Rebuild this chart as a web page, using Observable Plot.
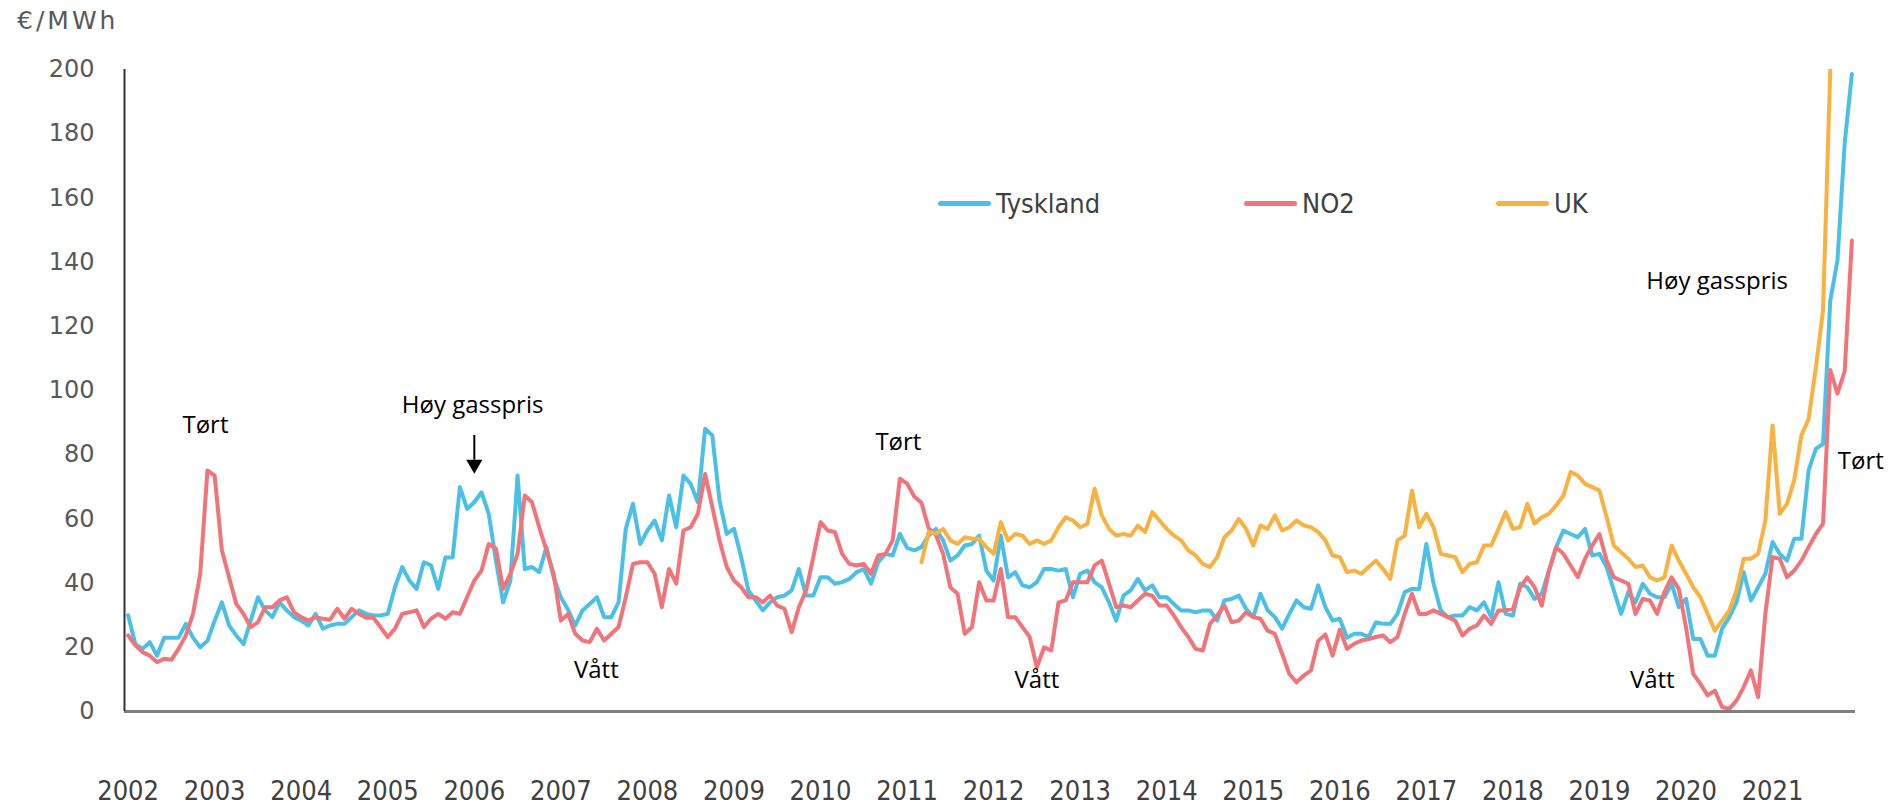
<!DOCTYPE html>
<html>
<head>
<meta charset="utf-8">
<script src="https://cdn.jsdelivr.net/npm/d3@7"></script>
<script src="https://cdn.jsdelivr.net/npm/@observablehq/plot@0.6"></script>
<style>
  html, body { margin: 0; padding: 0; background: #fff; }
  #wrap { position: relative; width: 1891px; height: 806px; overflow: hidden; }
  #unit { position: absolute; left: 17px; top: 6px; font: 25px "DejaVu Sans"; color: #595959; letter-spacing: 3px; }
  .leg { position: absolute; top: 186px; height: 34px; display: flex; align-items: center; font: 27px "DejaVu Sans Condensed"; color: #404040; }
  .leg span.sw { display: inline-block; width: 53px; height: 5px; border-radius: 3px; margin-right: 5px; }
  g[aria-label="y-axis tick label"] text { font-family: "DejaVu Sans"; font-size: 24px; fill: #595959; }
  g[aria-label="x-axis tick label"] text { font-family: "DejaVu Sans Condensed"; font-size: 27px; fill: #404040; }
  g[aria-label="text"] text { font-family: "Open Sans"; font-size: 24px; fill: #000; }
</style>
</head>
<body>
<div id="wrap">
  <div id="unit">€/MWh</div>
</div>
<script>
// Monthly prices, €/MWh, Jan 2002 – Dec 2021
const startYear = 2002;
const tyskland = [
  30,21,19.5,21.6,17.4,23,23,23,27.3,23,20,22,
  28.3,34,26.8,23.7,21,28.3,35.6,31.5,29.4,34,31.5,29.4,
  28.3,26.8,30.4,25.8,26.8,27.3,27.3,29.4,31.5,30.4,29.9,29.9,
  30.4,38.7,45,40.8,38.2,46.5,45.5,38.2,48,48,69.9,63.1,
  65.2,68.3,61.6,47,34,40.8,73.5,44.4,45,43.4,51.2,41.8,
  35.6,31.7,26.8,31.5,33.5,35.6,29.4,29.4,34,56.9,64.7,52.2,
  56.4,59.5,53.3,67.3,57.4,73.5,70.9,65.2,88.1,86,65.7,55.3,
  56.9,48.1,37.7,34.6,31.5,34,35.6,36.1,37.7,44.4,36.1,36.1,
  41.8,41.8,39.8,40.3,41.3,43.4,44.4,39.8,46.5,49.1,48.6,55.3,
  51,50.2,51.2,54.8,56.9,53.3,47,48.6,51.7,52.2,54.8,43.9,
  40.8,54.8,41.8,43.4,39.3,38.7,40.3,44.4,44.4,43.9,44.4,35.6,
  42.9,43.9,40.3,38.7,34,28.3,36.1,37.7,41.3,37.7,39.3,35.6,
  35.6,33.5,31.5,31.5,30.9,31.5,31.5,28.3,34.6,35.1,36.1,32,
  29.4,36.7,31.5,29.4,25.8,30.4,34.6,32.5,32,39.3,32.5,28.3,
  28.9,23,24.2,24.2,23.2,27.8,27.3,27.3,30.4,37.2,38.2,38.2,
  52.2,39.8,31.5,29.4,29.9,29.9,32.5,31.5,34,29.4,40.3,30.4,
  29.9,39.8,38.7,35.1,36.7,43.9,51.2,56.4,55.3,54.3,56.9,48.6,
  49.1,45,37.7,30.4,37.2,34,39.8,36.7,35.6,35.6,39.8,32.5,
  35.1,22.6,22.6,17.4,17.4,25.8,29.4,34,43.4,34.6,38.7,42.9,
  52.8,49.1,47,53.8,53.8,75.1,81.8,83.4,128,140.5,177,198.6
];
const no2 = [
  23.7,20.6,18.5,17.4,15.4,16.4,16.1,19.5,23.7,30.4,42.9,75.1,
  73.5,50.2,41.8,33.5,30.4,26.3,27.8,32.5,32.5,34.6,35.6,30.9,
  29.4,28.3,29.4,28.9,28.6,32,28.9,32,30.4,29.2,29.2,26.3,
  23.2,25.8,30.4,30.9,31.5,26.3,28.9,30.4,28.9,30.9,30.4,35.6,
  40.8,43.9,52.2,50.7,38.2,42.9,49.1,67.3,65.2,57.4,50.2,42.9,
  28.3,30.4,24.2,22.1,21.6,25.8,22.1,24.2,26.3,35.6,46,46.5,
  46.5,42.9,32.5,44.4,39.8,56.4,57.4,61.6,74,63.7,53.3,45,
  40.8,38.7,35.6,35.6,34,36.1,33,32,24.7,32.5,37.7,48.1,
  59,56.4,55.9,49.1,46,45.5,46,42.9,48.6,49.1,53.3,72.5,
  71,67,65,57,55,49.1,38.7,36.7,24.2,26.3,40.3,34.6,
  34.6,44.4,29.4,29.4,26.3,23.2,13.8,20,19,34,34.6,40.3,
  40.3,40.3,45.5,47,39.8,32.5,33,32.5,34.6,36.7,36.1,33,
  33,29.9,26.3,23.2,19.5,19,27.3,29.9,33,27.8,28.3,30.9,
  29.4,28.9,25.2,24.2,18,11.7,9.1,11.2,12.8,22,24,17.4,
  25.5,19.5,21.1,22.1,22.6,23.2,23.7,21.6,23.2,30.4,36.7,30.4,
  30.4,31.5,30.4,29.4,28.3,23.7,25.8,26.8,29.9,27.3,31.5,31.5,
  32,38.7,41.8,38.7,33,43.9,51.2,49.1,45.5,41.8,47.6,51.7,
  55.3,47,41.8,40.8,39.8,30.4,35.1,34.6,30.4,37.2,41.8,38.2,
  26.3,11.7,8.6,5,6.5,1.4,0.8,3.4,7.6,12.8,4.5,30.4,
  48.1,47.6,41.8,43.9,47,51.2,55.3,58.5,106.4,99,106,146.7
];
// UK series begins March 2011
const ukStartYear = 2011, ukStartMonth = 2;
const uk = [
  46.5,55.9,55.4,56.9,53.3,52.2,54.3,53.8,53.8,51.2,
  49.1,59,53.3,55.3,54.8,52.2,53.3,52.2,53.3,57.4,60.5,59.5,
  57.4,58.4,69.4,61.1,56.9,54.8,55.3,54.8,57.9,55.9,62.1,59.5,
  56.9,54.8,53.3,50.2,48.6,46,45,48.1,54.3,56.4,60,56.9,
  51.7,57.9,56.9,61.1,56.4,57.4,59.5,58,57.4,55.9,53.3,48.6,
  48.1,43.4,43.9,42.9,45,47,44.4,41.3,53.3,54.8,68.8,57.4,
  61.6,57.4,49.1,48.6,48.1,43.4,46,46.5,51.7,51.7,56.9,62.1,
  56.9,57.4,64.7,58.5,60.5,61.6,64.2,67.3,74.6,73.5,70.9,69.9,
  68.8,60.5,51.7,49.6,47.6,45,45.5,41.8,40.8,41.8,51.7,47,
  42.9,38.7,35.6,30.4,25.2,28.3,31.5,37.7,47.6,47.6,49.1,59.5,
  89.1,61.6,64.7,72,86,91.2,107,125,200
];
const seriesNames = ["Tyskland", "NO2", "UK"];
const seriesColors = ["#4bc0e6", "#f0747a", "#f9b13f"];
const yearTicks = d3.range(2002, 2022);
const yTicks = d3.range(0, 201, 20);
const annotations = [
  {label: "Tørt", t: 2002.894, v: 89.1},
  {label: "Høy gasspris", t: 2005.98, v: 95.3},
  {label: "Vått", t: 2007.41, v: 12.8},
  {label: "Tørt", t: 2010.9, v: 83.8},
  {label: "Vått", t: 2012.5, v: 9.7},
  {label: "Vått", t: 2019.61, v: 9.7},
  {label: "Tørt", t: 2022.02, v: 77.9},
  {label: "Høy gasspris", t: 2020.36, v: 134}
];
const arrowNote = [{t: 2006.0, v1: 86, v2: 78.3, tip: 77.0}];

const rows = [];
tyskland.forEach((v, i) => rows.push({s: "Tyskland", t: startYear + i / 12, v}));
no2.forEach((v, i) => rows.push({s: "NO2", t: startYear + i / 12, v}));
uk.forEach((v, i) => rows.push({s: "UK", t: ukStartYear + (ukStartMonth + i) / 12, v}));

const chart = Plot.plot({
  width: 1891,
  height: 806,
  marginLeft: 124,
  marginRight: 36,
  marginTop: 69,
  marginBottom: 95,
  x: {domain: [startYear - 1 / 24, 2022 - 1 / 24]},
  y: {domain: [0, 200]},
  color: {domain: seriesNames, range: seriesColors},
  marks: [
    Plot.axisY({ticks: yTicks, tickSize: 0, tickPadding: 30, label: null}),
    Plot.axisX({ticks: yearTicks, tickFormat: d => String(d), tickSize: 0, tickPadding: 69, label: null}),
    Plot.line(rows, {x: "t", y: "v", z: "s", stroke: "s", strokeWidth: 4, strokeLinejoin: "round", strokeLinecap: "round", clip: true}),
    Plot.ruleY([0], {stroke: "#7f7f7f", strokeWidth: 3}),
    Plot.ruleX([startYear - 1 / 24], {y1: 0, y2: 200, stroke: "#333", strokeWidth: 2}),
    Plot.ruleX(arrowNote, {x: "t", y1: "v1", y2: "v2", stroke: "#000", strokeWidth: 2}),
    Plot.dot(arrowNote, {x: "t", y: "tip", symbol: "triangle", rotate: 180, r: 6, fill: "#000", stroke: "none"}),
    Plot.text(annotations, {x: "t", y: "v", text: "label", textAnchor: "middle", lineAnchor: "middle"})
  ]
});
const wrap = document.getElementById("wrap");
wrap.appendChild(chart);
chart.style.position = "absolute";
chart.style.left = "0px";
chart.style.top = "0px";

const legPos = [938, 1244, 1496];
seriesNames.forEach((name, k) => {
  const d = document.createElement("div");
  d.className = "leg";
  d.style.left = legPos[k] + "px";
  d.innerHTML = `<span class="sw" style="background:${seriesColors[k]}"></span>${name}`;
  wrap.appendChild(d);
});
</script>
</body>
</html>
